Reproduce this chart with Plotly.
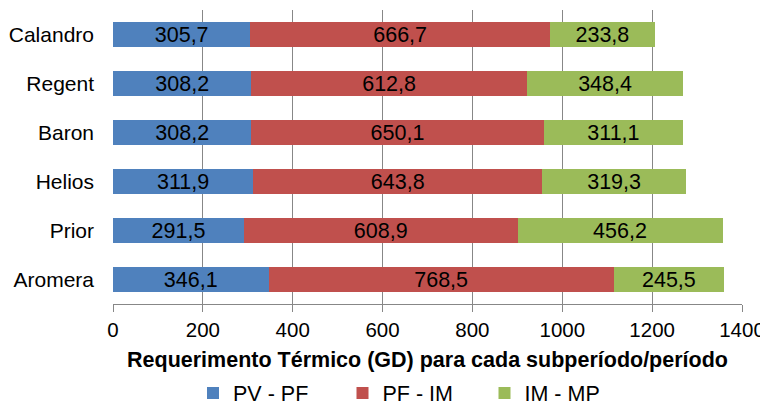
import plotly.graph_objects as go

categories = ["Aromera", "Prior", "Helios", "Baron", "Regent", "Calandro"]
pv_pf = [346.1, 291.5, 311.9, 308.2, 308.2, 305.7]
pf_im = [768.5, 608.9, 643.8, 650.1, 612.8, 666.7]
im_mp = [245.5, 456.2, 319.3, 311.1, 348.4, 233.8]
series_names = ["PV - PF", "PF - IM", "IM - MP"]
colors = ["#4F81BD", "#C0504D", "#9BBB59"]
legend_ids = ["legend", "legend2", "legend3"]
legend_x_px = [185, 334.5, 476.5]
tick_vals = [0, 200, 400, 600, 800, 1000, 1200, 1400]

FONT = "Liberation Sans, Arial, sans-serif"
W, H = 760, 398

def fmt(v):
    return f"{v:.1f}".replace(".", ",")

fig = go.Figure()
for name, vals, col, lid in zip(series_names, [pv_pf, pf_im, im_mp], colors, legend_ids):
    fig.add_trace(go.Bar(
        y=categories, x=vals, name=name, orientation="h",
        marker=dict(color=col, line=dict(width=0)),
        text=[fmt(v) for v in vals], textposition="inside",
        insidetextanchor="middle", constraintext="none",
        textfont=dict(family=FONT, size=21.5, color="black"),
        legend=lid,
    ))

legend_common = dict(orientation="h", xref="container", yref="container",
                     yanchor="middle", xanchor="left",
                     font=dict(family=FONT, size=21.5, color="black"),
                     bgcolor="rgba(0,0,0,0)", borderwidth=0)

layout_legends = {}
for lid, xp in zip(legend_ids, legend_x_px):
    layout_legends[lid] = dict(legend_common, x=xp / W, y=(H - 385) / H)

fig.update_layout(
    barmode="stack",
    bargap=0.5,
    width=W, height=H,
    margin=dict(l=105, r=26, t=2, b=102, autoexpand=False),
    paper_bgcolor="white", plot_bgcolor="white",
    font=dict(family=FONT, size=21.5, color="black"),
    showlegend=True,
    **layout_legends,
    xaxis=dict(range=[0, 1400], tickvals=tick_vals, showgrid=True,
               gridcolor="#878787", gridwidth=1, zeroline=False,
               showline=True, linecolor="#878787", linewidth=1,
               ticks="outside", tickcolor="#878787", ticklen=7,
               tickfont=dict(family=FONT, size=20.5, color="black"),
               automargin=False,
               title=dict(text="<b>Requerimento Térmico (GD) para cada subperíodo/período</b>",
                          font=dict(family=FONT, size=21.5, color="black"), standoff=17)),
    yaxis=dict(showgrid=False, showline=False, ticks="", automargin=False,
               tickfont=dict(family=FONT, size=21, color="black"),
               ticklabelstandoff=18),
)

fig.write_html("out.html")
